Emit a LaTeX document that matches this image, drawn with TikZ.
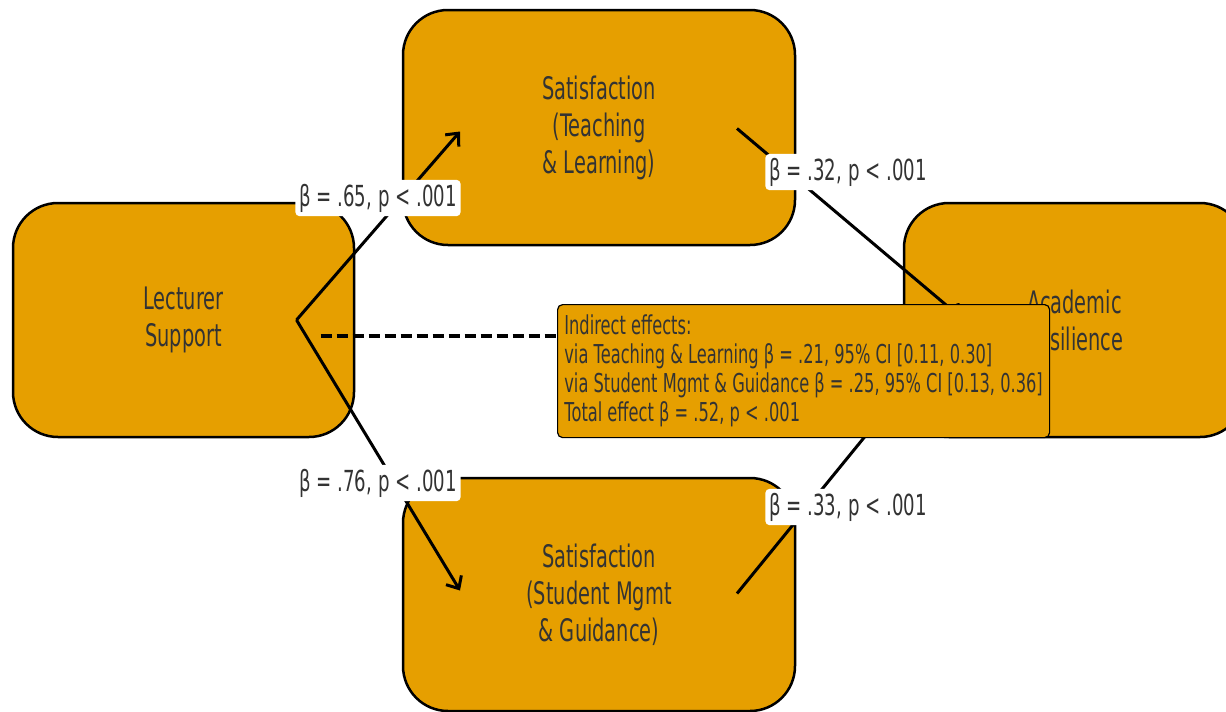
\documentclass[tikz,border=0pt]{standalone}
\usepackage{fontspec}
\setmainfont{DejaVu Sans}[FakeStretch=0.625]
\usetikzlibrary{positioning,calc,arrows.meta}
\definecolor{boxorange}{HTML}{E69F00}
\definecolor{txtgray}{HTML}{333333}

\begin{document}
\begin{tikzpicture}[x=1pt, y=-1pt,
  factor/.style={rectangle, draw=black, line width=2.5pt, fill=boxorange, rounded corners=45pt, text=txtgray, align=center, font=\fontsize{31}{37}\selectfont},
  effect/.style={line width=3pt, -{Straight Barb[length=10pt,width=18pt]}},
  coef/.style={fill=white, rounded corners=4pt, inner sep=4pt, text=txtgray, font=\fontsize{29}{34}\selectfont},
  note/.style={rectangle, draw=black, line width=1.2pt, fill=boxorange, rounded corners=5pt, text=txtgray, align=left, inner sep=5pt, font=\fontsize{26}{29}\selectfont}]
  \useasboundingbox (0,0) rectangle (1226,712);
  \clip (0,0) rectangle (1226,712);

  % constructs
  \node[factor, minimum width=341pt, minimum height=234pt] (lec) at (183.5,320) {Lecturer\\Support};
  \node[factor, minimum width=392pt, minimum height=235pt] (teach) at (599,127.5) {Satisfaction\\(Teaching\\\& Learning)};
  \node[factor, minimum width=392pt, minimum height=233pt] (guid) at (599,594.5) {Satisfaction\\(Student Mgmt\\\& Guidance)};
  \node[factor, minimum width=341pt, minimum height=234pt] (res) at (1074.5,320) {Academic\\Resilience};

  % anchor points of the paths
  \coordinate (lecR) at ($(lec.center)+(113,0)$);
  \coordinate (resL) at ($(res.center)+(-113,-2)$);
  \coordinate (teachL) at ($(teach.center)+(-139,4)$);
  \coordinate (teachR) at ($(teach.center)+(138,1)$);
  \coordinate (guidL) at ($(guid.center)+(-139,-4)$);
  \coordinate (guidR) at ($(guid.center)+(138,-1)$);

  \draw[effect] (lecR) -- (teachL);
  \draw[effect] (lecR) -- (guidL);
  \draw[effect] (teachR) -- (resL);
  \draw[effect] (guidR) -- (resL);
  \draw[line width=3.5pt, dash pattern=on 11pt off 5pt] ($(lec.center)+(137,16)$) -- ($(res.center)+(-137,16)$);

  % coefficients
  \node[coef] (b1) at (378,198) {β = .65, p < .001};
  \node[coef] (b2) at (378,483) {β = .76, p < .001};
  \node[coef] (b3) at (848,172) {β = .32, p < .001};
  \node[coef] (b4) at (848,507) {β = .33, p < .001};

  % indirect effects
  \node[note, anchor=north west, minimum width=492pt, minimum height=133pt] (ind) at (557,304)
    {Indirect effects:\\via Teaching \& Learning β = .21, 95\% CI [0.11, 0.30]\\via Student Mgmt \& Guidance β = .25, 95\% CI [0.13, 0.36]\\Total effect β = .52, p < .001};
\end{tikzpicture}
\end{document}
